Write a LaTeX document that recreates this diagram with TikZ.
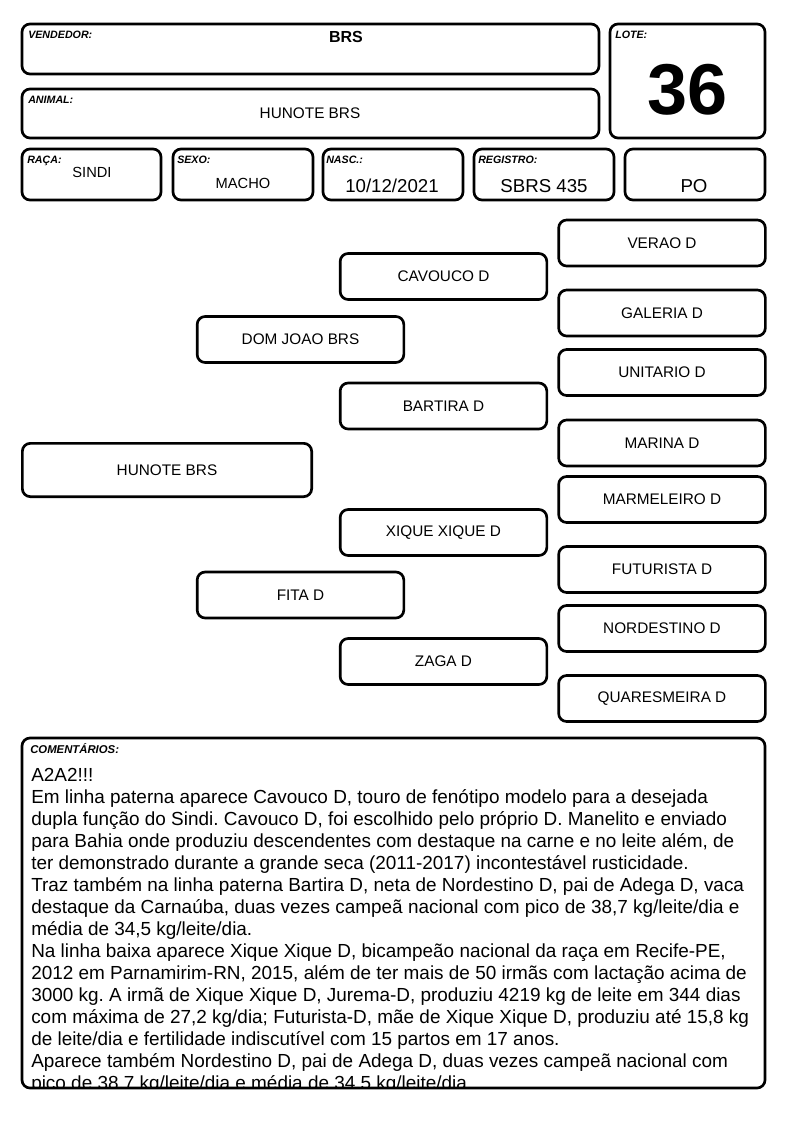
\documentclass[tikz,border=0pt]{standalone}
\usepackage{fontspec}
\setmainfont{Liberation Sans}
\usetikzlibrary{positioning}
\frenchspacing

\tikzset{
	boxline/.style={draw=black, line width=2pt, rounded corners=6pt},
	pedbox/.style={boxline, minimum width=155pt, minimum height=34.5pt, inner sep=0pt, font=\fontsize{11.5}{13}\selectfont},
	tag/.style={anchor=base west, inner sep=0pt, font=\fontsize{8}{9}\selectfont\bfseries\itshape},
	val/.style={anchor=base, inner sep=0pt, font=\fontsize{11.5}{13}\selectfont},
	big/.style={val, font=\fontsize{14}{16}\selectfont},
}

\begin{document}
\begin{tikzpicture}[x=0.75pt, y=-0.75pt]
		\useasboundingbox (0,0) rectangle (794,1123);
		
		% header
		\draw[boxline] (22,24) rectangle (599,74);
		\draw[boxline] (22,89) rectangle (599,138);
		\draw[boxline] (610,24) rectangle (765,138);
		\foreach \xa/\xb in {22/161, 173/313, 323/463, 474/614, 625/765} {
			\draw[boxline] (\xa,149) rectangle (\xb,200);
		}
		\node[tag] (tvend) at (28,39) {VENDEDOR:};
		\node[tag] (tlote) at (615,39) {LOTE:};
		\node[tag] (tanim) at (28,104) {ANIMAL:};
		\node[tag] (traca) at (27,164) {RAÇA:};
		\node[tag] (tsexo) at (177,164) {SEXO:};
		\node[tag] (tnasc) at (326,164) {NASC.:};
		\node[tag] (treg) at (478,164) {REGISTRO:};
		
		\node[val, font=\fontsize{12}{13}\selectfont\bfseries] (vend) at (346,43) {BRS};
		\node[val] (anim) at (310,119) {HUNOTE BRS};
		\node[val, font=\fontsize{54}{60}\selectfont\bfseries] (lote) at (688,115) {36};
		\node[val, font=\fontsize{11}{13}\selectfont] (raca) at (92,178) {SINDI};
		\node[val, font=\fontsize{11}{13}\selectfont] (sexo) at (243,189) {MACHO};
		\node[big] (nasc) at (392,193) {10/12/2021};
		\node[big] (reg) at (544,193) {SBRS 435};
		\node[big] (po) at (694,193) {PO};
		
		% pedigree
		\node[pedbox, minimum width=217pt, minimum height=40pt] (hunote) at (167,470) {HUNOTE BRS};
		\node[pedbox] (domjoao) at (300.5,339.5) {DOM JOAO BRS};
		\node[pedbox] (fita) at (300.5,595) {FITA D};
		\node[pedbox] (cavouco) at (443.5,276.5) {CAVOUCO D};
		\node[pedbox] (bartira) at (443.5,406) {BARTIRA D};
		\node[pedbox] (xique) at (443.5,532.5) {XIQUE XIQUE D};
		\node[pedbox] (zaga) at (443.5,661.5) {ZAGA D};
		\foreach \nm/\yy/\txt in {verao/243/VERAO D, galeria/313/GALERIA D, unitario/372.5/UNITARIO D, marina/443/MARINA D, marmeleiro/499.5/MARMELEIRO D, futurista/569.5/FUTURISTA D, nordestino/628.5/NORDESTINO D, quaresmeira/698.5/QUARESMEIRA D} {
			\node[pedbox] (\nm) at (662,\yy) {\txt};
		}
		
		% comments
		\node[tag, font=\fontsize{8.5}{9}\selectfont\bfseries\itshape] (tcom) at (30,753) {COMENTÁRIOS:};
		\begin{scope}
			\clip[rounded corners=6pt] (22,738) rectangle (765,1088);
			\foreach \linha [count=\i from 0] in {
				{A2A2!!!},
				{Em linha paterna aparece Cavouco D, touro de fenótipo modelo para a desejada},
				{dupla função do Sindi. Cavouco D, foi escolhido pelo próprio D. Manelito e enviado},
				{para Bahia onde produziu descendentes com destaque na carne e no leite além, de},
				{ter demonstrado durante a grande seca (2011-2017) incontestável rusticidade.},
				{Traz também na linha paterna Bartira D, neta de Nordestino D, pai de Adega D, vaca},
				{destaque da Carnaúba, duas vezes campeã nacional com pico de 38,7 kg/leite/dia e},
				{média de 34,5 kg/leite/dia.},
				{Na linha baixa aparece Xique Xique D, bicampeão nacional da raça em Recife-PE,},
				{2012 em Parnamirim-RN, 2015, além de ter mais de 50 irmãs com lactação acima de},
				{3000 kg. A irmã de Xique Xique D, Jurema-D, produziu 4219 kg de leite em 344 dias},
				{com máxima de 27,2 kg/dia; Futurista-D, mãe de Xique Xique D, produziu até 15,8 kg},
				{de leite/dia e fertilidade indiscutível com 15 partos em 17 anos.},
				{Aparece também Nordestino D, pai de Adega D, duas vezes campeã nacional com},
				{pico de 38,7 kg/leite/dia e média de 34,5 kg/leite/dia.}} {
				\node[anchor=base west, inner sep=0pt, font=\fontsize{14.2}{16}\selectfont] (c\i) at (31,781+22*\i) {\linha};
			}
		\end{scope}
		\draw[boxline] (22,738) rectangle (765,1088);
	\end{tikzpicture}
\end{document}
